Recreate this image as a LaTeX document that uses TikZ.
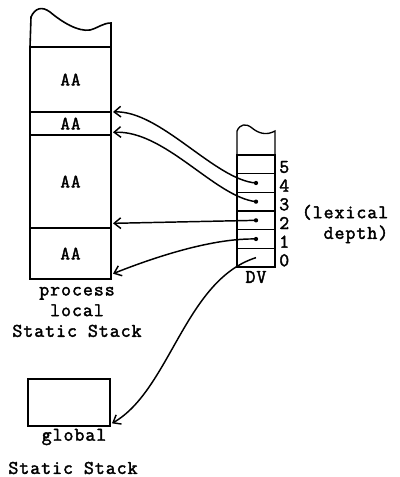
\documentclass[tikz,border=0pt]{standalone}
\usepackage{fontspec}
\newfontfamily\stackfont{Latin Modern Mono}[FakeBold=2,LetterSpace=5]
\usetikzlibrary{arrows.meta,positioning}

\begin{document}
\begin{tikzpicture}[x=0.75pt, y=-0.75pt,
  cell/.style={draw, line width=1.2pt, outer sep=0pt, inner sep=0pt, minimum width=60.75pt, font=\stackfont\fontsize{14}{16}\selectfont},
  dvcell/.style={draw, line width=1pt, outer sep=0pt, inner sep=0pt, minimum width=28.5pt, minimum height=14pt},
  lbl/.style={font=\stackfont\fontsize{14.5}{15.5}\selectfont, inner sep=1pt},
  arrow/.style={-{Straight Barb[length=5pt,width=8pt]}, line width=1.1pt}
]
  \useasboundingbox (0,0) rectangle (399,477);

  % process local static stack
  \node[cell, anchor=north west, minimum height=48.75pt] (aa1) at (30,47) {AA};
  \node[cell, minimum height=17.25pt, below=0pt of aa1] (aa2) {AA};
  \node[cell, minimum height=69.75pt, below=0pt of aa2] (aa3) {AA};
  \node[cell, minimum height=38.25pt, below=0pt of aa3] (aa4) {AA};
  \draw[line width=1.2pt] (aa1.north west) -- (31,17) .. controls (35,8) and (42,6) .. (50,12)
    .. controls (62,22) and (78,32) .. (90,30) .. controls (98,28) and (103,23) .. (111,23) -- (aa1.north east);

  % display vector
  \node[dvcell, anchor=south west] (dv0) at (237,267) {};
  \node[dvcell, above=0pt of dv0] (dv1) {};
  \node[dvcell, above=0pt of dv1] (dv2) {};
  \node[dvcell, above=0pt of dv2] (dv3) {};
  \node[dvcell, above=0pt of dv3] (dv4) {};
  \node[dvcell, above=0pt of dv4] (dv5) {};
  \draw[line width=1pt] (dv5.north west) -- (237,131) .. controls (240,124) and (246,123) .. (252,128)
    .. controls (258,133) and (266,136) .. (275,131) -- (dv5.north east);

  % depth numbers
  \node[lbl, anchor=west] (n0) at ([xshift=2pt,yshift=-2pt]dv0.east) {0};
  \node[lbl, anchor=west] (n1) at ([xshift=2pt,yshift=-2pt]dv1.east) {1};
  \node[lbl, anchor=west] (n2) at ([xshift=2pt,yshift=-2pt]dv2.east) {2};
  \node[lbl, anchor=west] (n3) at ([xshift=2pt,yshift=-2pt]dv3.east) {3};
  \node[lbl, anchor=west] (n4) at ([xshift=2pt,yshift=-2pt]dv4.east) {4};
  \node[lbl, anchor=west] (n5) at ([xshift=2pt,yshift=-2pt]dv5.east) {5};
  \node[lbl] (dvname) at (256,277) {DV};
  \node[lbl, align=right] (depth) at (345,224) {(lexical\\depth)};

  % global static stack
  \node[cell, anchor=north west, minimum width=61.5pt, minimum height=35.25pt] (glob) at (28,379) {};

  % labels
  \node[lbl, align=center] (proc) at (77,312) {process\\local\\Static Stack};
  \node[lbl] (globname) at (74,437) {global};
  \node[lbl] (globstack) at (73,468) {Static Stack};

  % pointers
  \fill (dv4.center) circle (1.6pt);
  \fill (dv3.center) circle (1.6pt);
  \fill (dv2.center) circle (1.6pt);
  \fill (dv1.center) circle (1.6pt);
  \draw[arrow] (dv4.center) .. controls (215,180) and (160,110) .. ([xshift=1.5pt]aa1.south east);
  \draw[arrow] (dv3.center) .. controls (215,197) and (165,130) .. ([xshift=1.5pt,yshift=2pt]aa2.south east);
  \draw[arrow] (dv2.center) -- ([xshift=1.5pt,yshift=3.5pt]aa3.south east);
  \draw[arrow] (dv1.center) .. controls (215,238) and (160,255) .. ([xshift=1.5pt,yshift=4pt]aa4.south east);
  \draw[arrow] (dv0.center) .. controls (185,280) and (170,390) .. ([xshift=1.5pt,yshift=2pt]glob.south east);
\end{tikzpicture}
\end{document}
